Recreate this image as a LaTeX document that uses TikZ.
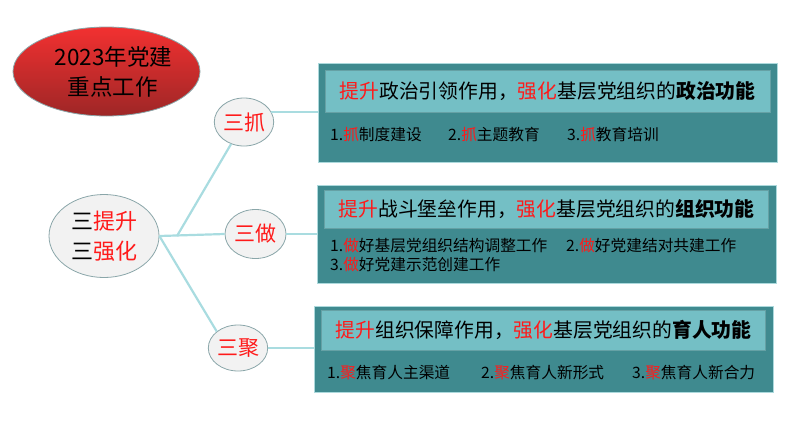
\documentclass[tikz,border=0pt]{standalone}
\usepackage{fontspec}
\setmainfont{Noto Sans CJK SC}
\usepackage{tikz}
\usetikzlibrary{positioning,shapes,shapes.geometric}
\usepackage{xcolor}

\definecolor{linkc}{HTML}{A9DCE0}
\definecolor{boxdark}{HTML}{3F8A8F}
\definecolor{boxlight}{HTML}{74BFC5}
\definecolor{ellfill}{HTML}{F2F2F2}
\definecolor{ellline}{HTML}{8AA6A9}
\definecolor{hlred}{HTML}{FF1A1A}
\newcommand{\hl}[1]{\textcolor{hlred}{#1}}

\begin{document}
\begin{tikzpicture}[x=1pt,y=-1pt,
    leaf/.style={ellipse, draw=ellline, fill=ellfill, line width=0.8pt, inner sep=0pt, font=\fontsize{21}{23}\selectfont, text=hlred},
    outerbox/.style={rectangle, draw=boxlight!60!white, fill=boxdark, line width=0.8pt, inner sep=0pt},
    innerbox/.style={rectangle, draw=boxdark!80!white, fill=boxlight, line width=0.8pt, inner sep=0pt, font=\fontsize{19.8}{22}\selectfont},
    item/.style={anchor=west, inner sep=0pt, font=\fontsize{15.7}{18}\selectfont, text=black},
    link/.style={draw=linkc, line width=2.2pt}]
			\useasboundingbox (0,0) rectangle (799,423);
			
			\node[ellipse, draw=ellline, line width=0.8pt, top color=red!80!white!95!black, bottom color=red!55!black!85, minimum width=187, minimum height=89, inner sep=0pt, align=center, font=\fontsize{22.5}{30}\selectfont] (year) at (106.5,71.5) {\hspace*{14pt}2023年党建\\\hspace*{12pt}重点工作};
			
			\node[leaf, minimum width=110, minimum height=83, align=center, text=black, font=\fontsize{22}{30}\selectfont] (hub) at (104,236) {三\hl{提升}\\三\hl{强化}};
			\node[leaf, minimum width=59, minimum height=48] (zhua) at (244,122) {三抓};
			\node[leaf, minimum width=61, minimum height=49] (zuo) at (255.5,234) {三做};
			\node[leaf, minimum width=58, minimum height=46] (ju) at (238,348) {三聚};
			
			% boxes
			\node[outerbox, minimum width=459, minimum height=99] (box1) at (547.5,112.5) {};
			\node[innerbox, minimum width=445, minimum height=42, below=7pt of box1.north] (title1) {\hl{提升}政治引领作用，\hl{强化}基层党组织的\textbf{政治功能}};
			\node[item] (z1) at (330,135) {1.\hl{抓}制度建设};
			\node[item] (z2) at (448,135) {2.\hl{抓}主题教育};
			\node[item] (z3) at (567,135) {3.\hl{抓}教育培训};
			
			\node[outerbox, minimum width=459, minimum height=98] (box2) at (546.5,234) {};
			\node[innerbox, minimum width=444, minimum height=38, below=5pt of box2.north] (title2) {\hl{提升}战斗堡垒作用，\hl{强化}基层党组织的\textbf{组织功能}};
			\node[item] (d1) at (330,246) {1.\hl{做}好基层党组织结构调整工作};
			\node[item] (d2) at (566,246) {2.\hl{做}好党建结对共建工作};
			\node[item] (d3) at (330,265) {3.\hl{做}好党建示范创建工作};
			
			\node[outerbox, minimum width=459, minimum height=86] (box3) at (543.5,349) {};
			\node[innerbox, minimum width=444, minimum height=40, below=4pt of box3.north] (title3) {\hl{提升}组织保障作用，\hl{强化}基层党组织的\textbf{育人功能}};
			\node[item] (j1) at (327,373) {1.\hl{聚}焦育人主渠道};
			\node[item] (j2) at (481,373) {2.\hl{聚}焦育人新形式};
			\node[item] (j3) at (632,373) {3.\hl{聚}焦育人新合力};
			
			% connectors
			\coordinate (fork) at (177,236);
			\draw[link] (hub.east) -- (zuo.west);
			\draw[link] (fork) -- (zhua);
			\draw[link] (hub.east) -- (ju.north west);
			\draw[link] (zhua.20) -- (zhua.20 -| box1.west);
			\draw[link] (zuo.east) -- (zuo.east -| box2.west);
			\draw[link] (ju.east) -- (ju.east -| box3.west);
	\end{tikzpicture}
\end{document}
